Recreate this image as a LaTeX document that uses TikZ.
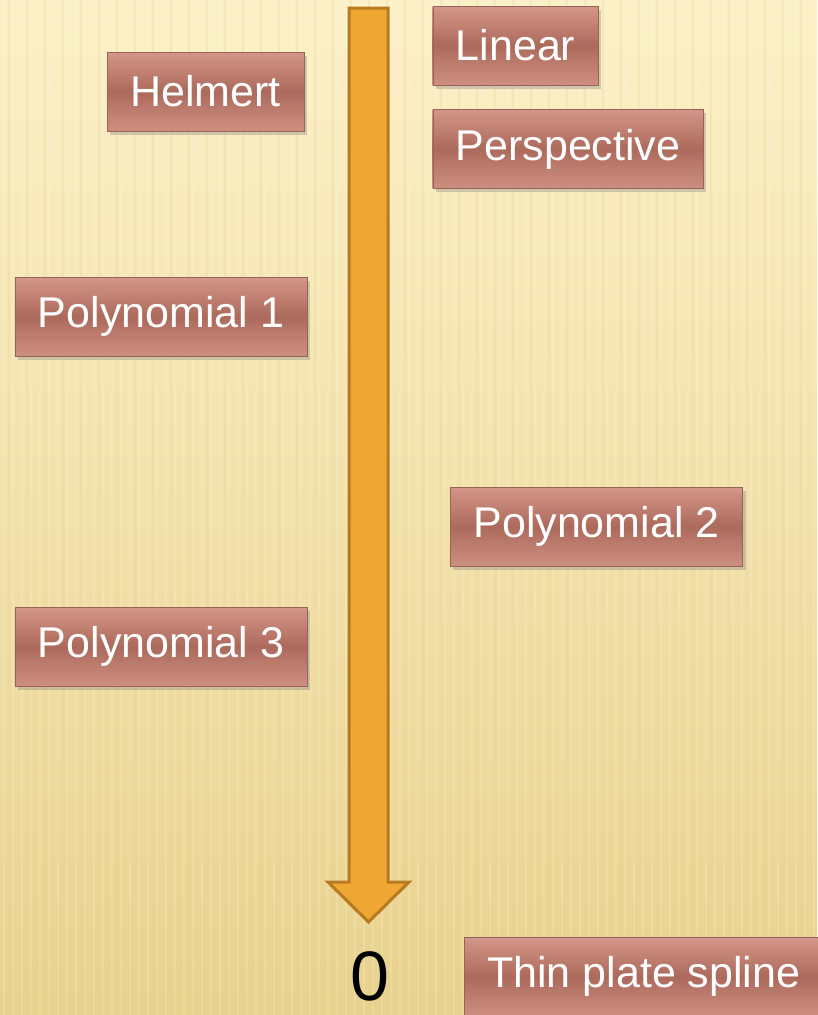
\documentclass[tikz,border=0pt]{standalone}
\usepackage{fontspec}
\setmainfont{Liberation Sans}
\usetikzlibrary{positioning,shadows}
\definecolor{paperlight}{RGB}{252,240,198}
\definecolor{paperdark}{RGB}{233,210,142}
\definecolor{boxtop}{RGB}{212,150,136}
\definecolor{boxmid}{RGB}{172,106,92}
\definecolor{boxedge}{RGB}{150,100,90}
\definecolor{arrowfill}{RGB}{240,166,50}
\definecolor{arrowedge}{RGB}{184,122,32}

\begin{document}
\begin{tikzpicture}[
  x=1pt, y=-1pt,
  method/.style={
    draw=boxedge,
    rectangle,
    top color=boxtop,
    bottom color=boxtop!85!boxmid,
    middle color=boxmid,
    font=\fontsize{43}{50}\selectfont\color{white},
    minimum height=79pt,
    inner xsep=23pt,
    drop shadow={opacity=0.35, shadow xshift=3pt, shadow yshift=-4pt}
  },
  zerolabel/.style={
    font=\fontsize{70}{72}\selectfont,
    inner sep=0pt
  },
  arr/.style={draw=arrowedge, fill=arrowfill, line width=3pt, line join=miter}
]
\useasboundingbox (0,0) rectangle (817,1015);

% Background
\fill[top color=paperlight, bottom color=paperdark] (0,0) rectangle (817,1015);
\foreach \x in {4,13,...,817}
  \draw[white, opacity=0.15, line width=2pt] (\x,0) -- (\x,1015);
\foreach \x in {9,27,...,817}
  \draw[paperdark, opacity=0.25, line width=1.5pt] (\x,0) -- (\x,1015);

% Arrow
\draw[arr] (349,8) -- (388,8) -- (388,882) -- (409,882) -- (368.5,922)
  -- (328,882) -- (349,882) -- cycle;
\node[zerolabel] (zero) at (370,976) {0};

% Methods
\node[method] (helmert) at (205.5,91.5) {Helmert};
\node[method] (linear) at (515.5,45.5) {Linear};
\node[method, below=24pt of linear.south west, anchor=north west] (perspective) {Perspective};
\node[method] (poly1) at (161,316.5) {Polynomial 1};
\node[method] (poly2) at (596.5,526.5) {Polynomial 2};
\node[method] (poly3) at (161,646.5) {Polynomial 3};
\node[method, anchor=north west] (tps) at (464,937) {Thin plate spline};

\end{tikzpicture}
\end{document}
